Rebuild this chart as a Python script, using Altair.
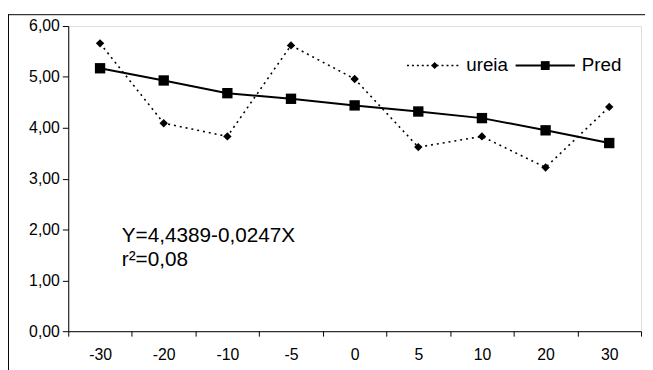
import altair as alt
import pandas as pd

cats = ["-30", "-20", "-10", "-5", "0", "5", "10", "20", "30"]
ureia = [5.66, 4.09, 3.83, 5.62, 4.96, 3.62, 3.83, 3.22, 4.41]
pred = [5.17, 4.93, 4.68, 4.57, 4.44, 4.32, 4.19, 3.95, 3.70]
series = ["ureia", "Pred"]
notes = ["Y=4,4389-0,0247X", "r\u00b2=0,08"]
note_y = [1.75, 1.28]

rows = []
for c, u, p in zip(cats, ureia, pred):
    rows.append({"x": c, "serie": "ureia", "v": u})
    rows.append({"x": c, "serie": "Pred", "v": p})
df = pd.DataFrame(rows)

FONT = "Liberation Sans"

X = alt.X("x:N", sort=cats, bandPosition=0.5,
          scale=alt.Scale(type="band", paddingInner=0, paddingOuter=0),
          axis=alt.Axis(title=None, labelAngle=0, tickBand="extent", tickSize=5,
                        labelFontSize=16, labelFont=FONT, labelColor="black",
                        labelPadding=11, domainColor="black", tickColor="black"))
Y = alt.Y("v:Q", scale=alt.Scale(domain=[0, 6], nice=False),
          axis=alt.Axis(title=None, values=[0, 1, 2, 3, 4, 5, 6], grid=False, tickSize=6,
                        labelExpr="replace(format(datum.value, '.2f'), '.', ',')",
                        labelFontSize=16, labelFont=FONT, labelColor="black",
                        labelPadding=3, domainColor="black", tickColor="black"))

base = alt.Chart(df)

ureia_line = base.transform_filter(alt.datum.serie == "ureia").mark_line(
    color="black", strokeDash=[2, 4], strokeWidth=1.6
).encode(x=X, y=Y)
pred_line = base.transform_filter(alt.datum.serie == "Pred").mark_line(
    color="black", strokeWidth=2
).encode(x=X, y=Y)
ureia_pts = base.transform_filter(alt.datum.serie == "ureia").mark_point(
    shape="diamond", filled=True, size=72, color="black", opacity=1
).encode(x=X, y=Y)
pred_pts = base.transform_filter(alt.datum.serie == "Pred").mark_point(
    shape="square", filled=True, size=110, color="black", opacity=1
).encode(x=X, y=Y)

notes_df = pd.DataFrame({"x": ["-30", "-30"], "v": note_y, "t": notes})
text = alt.Chart(notes_df).mark_text(align="left", baseline="alphabetic", dx=22,
                                     fontSize=21, font=FONT, color="black").encode(
    x=X, y=Y, text="t:N")

one = alt.Chart(pd.DataFrame({"a": [0]}))

# legend (decoration), drawn in pixel space inside the plot area
LY = 40
leg_u_line = one.mark_rule(color="black", strokeWidth=1.6, strokeDash=[2, 3]).encode(
    x=alt.value(343), x2=alt.value(396), y=alt.value(LY), y2=alt.value(LY))
leg_u_pt = one.mark_point(shape="diamond", filled=True, size=50, color="black", opacity=1).encode(
    x=alt.value(371), y=alt.value(LY))
leg_u_txt = one.mark_text(align="left", baseline="middle", fontSize=19, font=FONT, color="black",
                          text=series[0]).encode(x=alt.value(403), y=alt.value(LY))
leg_p_line = one.mark_rule(color="black", strokeWidth=2).encode(
    x=alt.value(453), x2=alt.value(513), y=alt.value(LY), y2=alt.value(LY))
leg_p_pt = one.mark_point(shape="square", filled=True, size=80, color="black", opacity=1).encode(
    x=alt.value(483), y=alt.value(LY))
leg_p_txt = one.mark_text(align="left", baseline="middle", fontSize=19, font=FONT, color="black",
                          text=series[1]).encode(x=alt.value(520), y=alt.value(LY))

frame_top = one.mark_rule(color="black", strokeWidth=1).encode(
    x=alt.value(-61), x2=alt.value(590), y=alt.value(-11.5), y2=alt.value(-11.5))
frame_left = one.mark_rule(color="black", strokeWidth=1).encode(
    x=alt.value(-60.5), x2=alt.value(-60.5), y=alt.value(-11.5), y2=alt.value(400))

chart = alt.layer(frame_top, frame_left, ureia_line, pred_line, ureia_pts, pred_pts, text,
                  leg_u_line, leg_u_pt, leg_u_txt, leg_p_line, leg_p_pt, leg_p_txt).properties(
    width=580, height=309,
    padding={"left": 61, "top": 16, "right": 4, "bottom": 38},
    autosize=alt.AutoSizeParams(type="none"),
).configure_view(stroke="black", strokeWidth=1).configure(background="white")

chart.save("out.html", embed_options={"renderer": "svg", "actions": False})
